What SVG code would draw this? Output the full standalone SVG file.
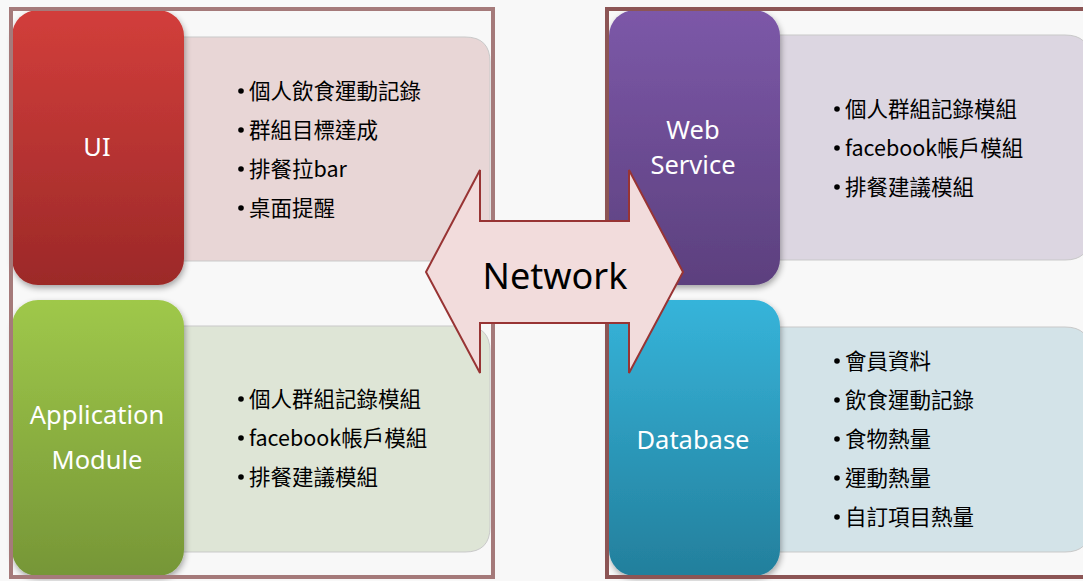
<svg xmlns="http://www.w3.org/2000/svg" width="1083" height="581" viewBox="0 0 1083 581">
  <defs>
    <linearGradient id="gRed" x1="0" y1="0" x2="0" y2="1">
      <stop offset="0" stop-color="#d23e3b"/>
      <stop offset="1" stop-color="#9c2928"/>
    </linearGradient>
    <linearGradient id="gGreen" x1="0" y1="0" x2="0" y2="1">
      <stop offset="0" stop-color="#9fc84a"/>
      <stop offset="1" stop-color="#769637"/>
    </linearGradient>
    <linearGradient id="gPurple" x1="0" y1="0" x2="0" y2="1">
      <stop offset="0" stop-color="#7c58a8"/>
      <stop offset="1" stop-color="#5c407e"/>
    </linearGradient>
    <linearGradient id="gBlue" x1="0" y1="0" x2="0" y2="1">
      <stop offset="0" stop-color="#36b4da"/>
      <stop offset="1" stop-color="#237f9c"/>
    </linearGradient>
    <filter id="shadow" x="-20%" y="-20%" width="140%" height="140%">
      <feGaussianBlur in="SourceAlpha" stdDeviation="3"/>
      <feOffset dx="1" dy="3" result="b"/>
      <feComponentTransfer><feFuncA type="linear" slope="0.35"/></feComponentTransfer>
      <feMerge><feMergeNode/><feMergeNode in="SourceGraphic"/></feMerge>
    </filter>
    <style>
      .frameL { fill: none; stroke: #a57a7a; stroke-width: 4; }
      .frameR { fill: none; stroke: #8c5555; stroke-width: 4; }
      .panel { stroke: #c9c9c9; stroke-width: 1; }
      .title { font-family: "Noto Sans", "Open Sans", sans-serif; font-size: 25.5px; fill: #ffffff; text-anchor: middle; }
      .item { font-family: "Noto Sans CJK TC", "Noto Sans", sans-serif; font-size: 21.5px; fill: #000000; }
      .dot { fill: #000000; }
      .net { font-family: "Noto Sans", "Open Sans", sans-serif; font-size: 36px; fill: #000000; text-anchor: middle; }
    </style>
  </defs>

  <rect x="0" y="0" width="1083" height="581" fill="#f8f8f8"/>

  <!-- client side -->
  <g id="ui">
    <path class="panel" fill="#e8d6d6" d="M150 37 H465 Q490 37 490 62 V261 H150 Z"/>
    <rect x="12" y="10" width="172" height="275" rx="26" fill="url(#gRed)" filter="url(#shadow)"/>
    <text class="title" x="97" y="156">UI</text>
    <g class="item">
      <circle class="dot" cx="241" cy="91" r="2.8"/><text x="249" y="99">個人飲食運動記錄</text>
      <circle class="dot" cx="241" cy="130" r="2.8"/><text x="249" y="138">群組目標達成</text>
      <circle class="dot" cx="241" cy="169" r="2.8"/><text x="249" y="177">排餐拉bar</text>
      <circle class="dot" cx="241" cy="208" r="2.8"/><text x="249" y="216">桌面提醒</text>
    </g>
  </g>

  <g id="app-module">
    <path class="panel" fill="#dee5d6" d="M150 326 H465 Q490 326 490 351 V527 Q490 552 465 552 H150 Z"/>
    <rect x="12" y="300" width="172" height="276" rx="26" fill="url(#gGreen)" filter="url(#shadow)"/>
    <text class="title" x="97" y="424">Application</text>
    <text class="title" x="97" y="469">Module</text>
    <g class="item">
      <circle class="dot" cx="241" cy="399" r="2.8"/><text x="249" y="407">個人群組記錄模組</text>
      <circle class="dot" cx="241" cy="438" r="2.8"/><text x="249" y="446">facebook帳戶模組</text>
      <circle class="dot" cx="241" cy="477" r="2.8"/><text x="249" y="485">排餐建議模組</text>
    </g>
  </g>

  <rect class="frameL" x="11" y="9" width="482" height="568"/>

  <!-- server side -->
  <g id="web-service">
    <path class="panel" fill="#dcd6e1" d="M750 35 H1065 Q1090 35 1090 60 V235 Q1090 260 1065 260 H750 Z"/>
    <rect x="609" y="10" width="171" height="275" rx="26" fill="url(#gPurple)" filter="url(#shadow)"/>
    <text class="title" x="693" y="139">Web</text>
    <text class="title" x="693" y="174">Service</text>
    <g class="item">
      <circle class="dot" cx="837" cy="109" r="2.8"/><text x="845" y="117">個人群組記錄模組</text>
      <circle class="dot" cx="837" cy="148" r="2.8"/><text x="845" y="156">facebook帳戶模組</text>
      <circle class="dot" cx="837" cy="187" r="2.8"/><text x="845" y="195">排餐建議模組</text>
    </g>
  </g>

  <g id="database">
    <path class="panel" fill="#d3e3e8" d="M750 327 H1065 Q1090 327 1090 352 V527 Q1090 552 1065 552 H750 Z"/>
    <rect x="609" y="300" width="171" height="276" rx="26" fill="url(#gBlue)" filter="url(#shadow)"/>
    <text class="title" x="693" y="449">Database</text>
    <g class="item">
      <circle class="dot" cx="837" cy="361" r="2.8"/><text x="845" y="369">會員資料</text>
      <circle class="dot" cx="837" cy="400" r="2.8"/><text x="845" y="408">飲食運動記錄</text>
      <circle class="dot" cx="837" cy="439" r="2.8"/><text x="845" y="447">食物熱量</text>
      <circle class="dot" cx="837" cy="478" r="2.8"/><text x="845" y="486">運動熱量</text>
      <circle class="dot" cx="837" cy="517" r="2.8"/><text x="845" y="525">自訂項目熱量</text>
    </g>
  </g>

  <path class="frameR" d="M1090 9 H607 V577 H1090"/>

  <!-- link between the two sides -->
  <g id="connectors">
    <g id="network">
      <path d="M426 272 L480 170 V221 H629 V170 L683 272 L629 373 V323 H480 V373 Z" fill="#f2dcdc" stroke="#983434" stroke-width="2" stroke-linejoin="miter"/>
      <text class="net" x="555" y="289">Network</text>
    </g>
  </g>
</svg>
